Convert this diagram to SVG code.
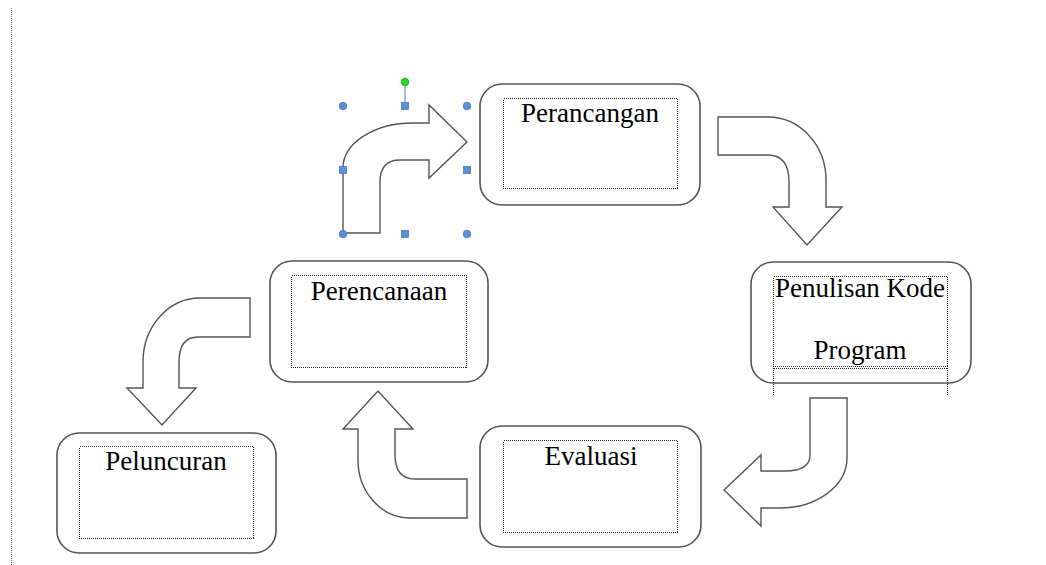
<svg xmlns="http://www.w3.org/2000/svg" width="1046" height="565" viewBox="0 0 1046 565">
<style>
.box{fill:#fff;stroke:#555;stroke-width:1.6}
.inner{fill:none;stroke:#222;stroke-width:1;stroke-dasharray:1 1;shape-rendering:crispEdges}
.lbl{font-family:"Liberation Serif","Times New Roman",serif;font-size:27px;fill:#000;text-anchor:middle}
.arrow{fill:#fff;stroke:#555;stroke-width:1.4;stroke-linejoin:miter}
.hc{fill:#5b8fd8;stroke:#4a78b8;stroke-width:0.8}
</style>
<rect width="1046" height="565" fill="#fff"/>
<line x1="11.5" y1="8" x2="11.5" y2="565" stroke="#777" stroke-width="1" stroke-dasharray="1 1" shape-rendering="crispEdges"/>

<g id="connectors">
  <path class="arrow" d="M343,233 L343,168 A70,45 0 0 1 413,123 L429,123 L429,105 L467,142 L429,178 L429,160 L400,160 Q380,160 380,182 L380,233 Z"/>
  <path class="arrow" d="M718,117 L768,117 A58,63 0 0 1 826,180 L826,207 L842,207 L807,245 L773,207 L789,207 L789,182 Q789,155 768,155 L718,155 Z"/>
  <path class="arrow" d="M810,398 L847,398 L847,458 A67,50 0 0 1 780,508 L761,508 L761,526 L724,490 L761,455 L761,471 L785,471 Q810,471 810,455 Z"/>
  <path class="arrow" d="M467,479 L467,518 L410,518 A52,58 0 0 1 358,460 L358,429 L343,429 L378,391 L413,429 L395,429 L395,455 Q395,479 415,479 Z"/>
  <path class="arrow" d="M250,298 L250,337 L198,337 Q179,337 179,362 L179,388 L196,388 L162,425 L127,388 L143,388 L143,362 A57,64 0 0 1 200,298 Z"/>
</g>

<g id="selection">
  <line x1="405" y1="82" x2="405" y2="106" stroke="#4a78b8" stroke-width="1"/>
  <circle cx="405" cy="82" r="3.8" fill="#22dd22" stroke="#1a9a1a" stroke-width="0.8"/>
  <circle class="hc" cx="343" cy="106" r="3.8"/>
  <circle class="hc" cx="467" cy="106" r="3.8"/>
  <circle class="hc" cx="343" cy="234" r="3.8"/>
  <circle class="hc" cx="467" cy="234" r="3.8"/>
  <rect class="hc" x="401.5" y="102.5" width="7" height="7"/>
  <rect class="hc" x="339.5" y="166.5" width="7" height="7"/>
  <rect class="hc" x="463.5" y="166.5" width="7" height="7"/>
  <rect class="hc" x="401.5" y="230.5" width="7" height="7"/>
</g>

<g id="perancangan">
  <rect class="box" x="480" y="84" width="220" height="121" rx="22"/>
  <rect class="inner" x="503.5" y="98.5" width="174" height="90"/>
  <text class="lbl" x="590" y="122">Perancangan</text>
</g>

<g id="penulisan">
  <rect class="box" x="751" y="262" width="220" height="121" rx="22"/>
  <rect class="inner" x="773.5" y="276.5" width="174" height="90"/>
  <line class="inner" x1="773.5" y1="368.5" x2="947.5" y2="368.5"/>
  <line class="inner" x1="773.5" y1="366" x2="773.5" y2="396"/>
  <line class="inner" x1="947.5" y1="366" x2="947.5" y2="396"/>
  <text class="lbl" x="860" y="297">Penulisan Kode</text>
  <text class="lbl" x="860" y="359">Program</text>
</g>

<g id="evaluasi">
  <rect class="box" x="480" y="426" width="221" height="121" rx="22"/>
  <rect class="inner" x="503.5" y="440.5" width="174" height="92"/>
  <text class="lbl" x="591" y="465">Evaluasi</text>
</g>

<g id="perencanaan">
  <rect class="box" x="270" y="261" width="218" height="121" rx="22"/>
  <rect class="inner" x="291.5" y="275.5" width="175" height="92"/>
  <text class="lbl" x="379" y="300">Perencanaan</text>
</g>

<g id="peluncuran">
  <rect class="box" x="57" y="433" width="219" height="120" rx="22"/>
  <rect class="inner" x="79.5" y="446.5" width="174" height="92"/>
  <text class="lbl" x="166" y="470">Peluncuran</text>
</g>
</svg>
